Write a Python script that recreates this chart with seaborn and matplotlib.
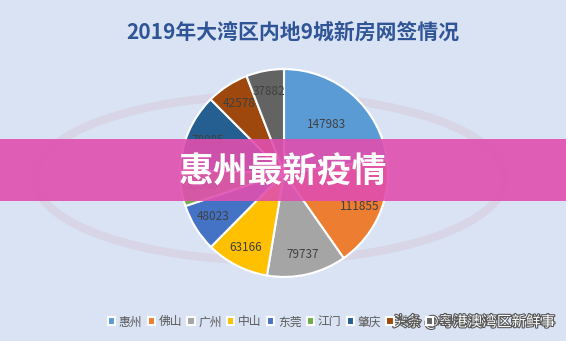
import matplotlib
matplotlib.use("Agg")
import matplotlib.pyplot as plt
import matplotlib.patheffects as pe
from matplotlib.patches import Rectangle, Ellipse
import seaborn as sns

# data
cities = ["惠州", "佛山", "广州", "中山", "东莞", "江门", "肇庆", "珠海", "深圳"]
sales = [147983, 111855, 79737, 63166, 48023, 35968, 78085, 42578, 37882]
colors = ["#5B9BD5", "#ED7D31", "#A5A5A5", "#FFC000", "#4472C4",
          "#70AD47", "#255E91", "#9E480E", "#636363"]

sns.set_theme(style="white")
plt.rcParams["font.family"] = ["Noto Sans CJK SC", "DejaVu Sans"]
palette = sns.color_palette(colors)

bg = "#DAE3F3"
fig = plt.figure(figsize=(5.66, 3.41), dpi=100)
fig.patch.set_facecolor(bg)

# faint background watermark
wm = fig.add_axes([0, 0, 1, 1])
wm.set_xlim(0, 566)
wm.set_ylim(341, 0)
wm.axis("off")
wm.add_patch(Ellipse((270, 178), 470, 165, fill=False, lw=6, edgecolor="#D8D2E4", alpha=0.8))

# pie
ax = fig.add_axes([(284 - 106) / 566, (341 - 173 - 106) / 341, 212 / 566, 212 / 341])
ax.set_facecolor("none")
wedges, texts = ax.pie(
    sales, colors=palette, startangle=90, counterclock=False,
    wedgeprops={"edgecolor": "white", "linewidth": 1.5},
    labels=[str(v) for v in sales], labeldistance=0.8,
    textprops={"fontsize": 8.5, "color": "#404040"},
)
for t in texts:
    t.set_horizontalalignment("center")
# largest slice label sits closer to the centre
x0, y0 = texts[0].get_position()
texts[0].set_position((x0 * 0.78, y0 * 0.78))
ax.set_xlim(-1.02, 1.02)
ax.set_ylim(-1.02, 1.02)
ax.set_aspect("equal")

# title
fig.text(0.518, 0.905, "2019年大湾区内地9城新房网签情况", ha="center", va="center",
         fontsize=15, fontweight="bold", color="#2F5597")

# legend
fig.legend(wedges, cities, loc="center", bbox_to_anchor=(0.502, 0.056), ncol=9,
           frameon=False, fontsize=8.5, handlelength=0.6, handleheight=0.6,
           handletextpad=0.3, columnspacing=0.48, labelcolor="#595959")

# pink banner
over = fig.add_axes([0, 0, 1, 1])
over.set_xlim(0, 566)
over.set_ylim(341, 0)
over.axis("off")
over.add_patch(Rectangle((0, 139), 566, 62, facecolor="#E04FAF", alpha=0.9, edgecolor="none"))
over.text(283, 172, "惠州最新疫情", ha="center", va="center", fontsize=25,
          fontweight="bold", color="white")
over.text(474, 322, "头条 @粤港澳湾区新鲜事", ha="center", va="center", fontsize=10.5,
          color="white", path_effects=[pe.withStroke(linewidth=1.6, foreground="#555555")])

plt.savefig("out.png", dpi=100, facecolor=bg)
